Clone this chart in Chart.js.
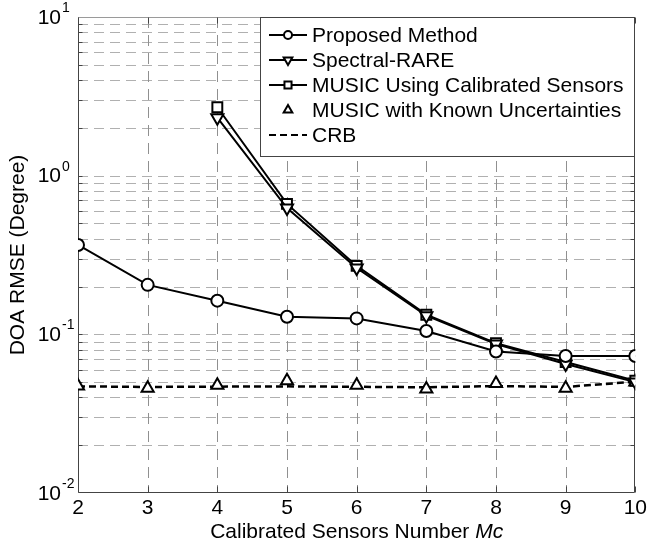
<!DOCTYPE html>
<html>
<head>
<meta charset="utf-8">
<script src="https://cdn.jsdelivr.net/npm/chart.js@4"></script>
<style>
html,body{margin:0;padding:0;background:#fff;}
canvas{display:block;}
</style>
</head>
<body>
<canvas id="c" width="650" height="548"></canvas>
<script>
const xValues = [2, 3, 4, 5, 6, 7, 8, 9, 10];
const proposed = [0.366, 0.205, 0.163, 0.129, 0.126, 0.105, 0.078, 0.073, 0.073];
const spectralRare = [null, null, 2.32, 0.625, 0.262, 0.131, 0.087, 0.065, 0.050];
const musicCalibrated = [null, null, 2.70, 0.664, 0.270, 0.133, 0.088, 0.067, 0.051];
const musicKnown = [0.0472, 0.0457, 0.0478, 0.0509, 0.0478, 0.0453, 0.0490, 0.0457, 0.0500];
const crb = [0.0470, 0.0466, 0.0468, 0.0470, 0.0467, 0.0464, 0.0472, 0.0466, 0.0503];
const seriesNames = ['Proposed Method', 'Spectral-RARE', 'MUSIC Using Calibrated Sensors', 'MUSIC with Known Uncertainties', 'CRB'];
const yMajorTicks = [0.01, 0.1, 1, 10];
const yMajorExponents = ['-2', '-1', '0', '1'];
const yGridTicks = [0.02,0.03,0.04,0.05,0.06,0.07,0.08,0.09,0.1,0.2,0.3,0.4,0.5,0.6,0.7,0.8,0.9,1,2,3,4,5,6,7,8,9];
const xTickValues = [2, 3, 4, 5, 6, 7, 8, 9, 10];
const xTitleMain = 'Calibrated Sensors Number ';
const xTitleItalic = 'Mc';
const yTitle = 'DOA RMSE (Degree)';

const FONT = '"Liberation Sans", Arial, Helvetica, sans-serif';

function pts(arr) { return xValues.map((x, i) => ({ x: x, y: arr[i] })); }

const gridPlugin = {
  id: 'gridPlugin',
  beforeDatasetsDraw(chart) {
    const ctx = chart.ctx, a = chart.chartArea;
    const xs = chart.scales.x, ys = chart.scales.y;
    ctx.save();
    ctx.lineWidth = 1;
    ctx.setLineDash([10, 6]);
    ctx.strokeStyle = '#b0b0b0';
    yGridTicks.forEach(v => {
      const y = Math.round(ys.getPixelForValue(v)) + 0.5;
      ctx.beginPath(); ctx.moveTo(a.left, y); ctx.lineTo(a.right, y); ctx.stroke();
    });
    ctx.strokeStyle = '#909090';
    ctx.setLineDash([11, 7]);
    xTickValues.slice(1, -1).forEach(v => {
      const x = Math.round(xs.getPixelForValue(v)) + 0.5;
      ctx.beginPath(); ctx.moveTo(x, a.top); ctx.lineTo(x, a.bottom); ctx.stroke();
    });
    ctx.setLineDash([]);
    const L = Math.round(a.left) + 0.5, R = Math.round(a.right) - 0.5, T = Math.round(a.top) + 0.5, B = Math.round(a.bottom) - 0.5;
    ctx.strokeStyle = '#9a9a9a';
    ctx.beginPath(); ctx.moveTo(L, T); ctx.lineTo(R, T); ctx.stroke();
    ctx.strokeStyle = '#444';
    ctx.beginPath(); ctx.moveTo(L, T); ctx.lineTo(L, B); ctx.lineTo(R, B); ctx.lineTo(R, T); ctx.stroke();
    yGridTicks.forEach(v => {
      const y = Math.round(ys.getPixelForValue(v)) + 0.5;
      ctx.beginPath(); ctx.moveTo(L, y); ctx.lineTo(L + 4, y); ctx.moveTo(R, y); ctx.lineTo(R - 4, y); ctx.stroke();
    });
    xTickValues.forEach(v => {
      const x = Math.round(xs.getPixelForValue(v)) + 0.5;
      ctx.beginPath(); ctx.moveTo(x, B); ctx.lineTo(x, B - 6); ctx.moveTo(x, T); ctx.lineTo(x, T + 6); ctx.stroke();
    });
    ctx.restore();
  },
  afterDraw(chart) {
    const ctx = chart.ctx, a = chart.chartArea;
    const ys = chart.scales.y;
    ctx.save();
    ctx.fillStyle = '#000';
    yMajorTicks.forEach((v, i) => {
      const y = ys.getPixelForValue(v);
      ctx.font = '21px ' + FONT;
      ctx.textAlign = 'right'; ctx.textBaseline = 'middle';
      ctx.fillText('10', 61, y + 1);
      ctx.font = '14px ' + FONT;
      ctx.textAlign = 'left';
      ctx.fillText(yMajorExponents[i], 62, y - 9);
    });
    ctx.save();
    ctx.translate(18, (a.top + a.bottom) / 2);
    ctx.rotate(-Math.PI / 2);
    ctx.font = '21px ' + FONT;
    ctx.textAlign = 'center'; ctx.textBaseline = 'middle';
    ctx.fillText(yTitle, 0, 0);
    ctx.restore();
    ctx.font = '21px ' + FONT;
    const w1 = ctx.measureText(xTitleMain).width;
    ctx.font = 'italic 21px ' + FONT;
    const w2 = ctx.measureText(xTitleItalic).width;
    const cx = (a.left + a.right) / 2;
    const x0 = cx - (w1 + w2) / 2;
    ctx.textAlign = 'left'; ctx.textBaseline = 'middle';
    ctx.font = '21px ' + FONT;
    ctx.fillText(xTitleMain, x0, 532);
    ctx.font = 'italic 21px ' + FONT;
    ctx.fillText(xTitleItalic, x0 + w1, 532);
    const bx0 = Math.round(a.right) - 375, by0 = Math.round(a.top), bx1 = Math.round(a.right), by1 = by0 + 140;
    ctx.fillStyle = '#fff';
    ctx.fillRect(bx0, by0, bx1 - bx0, by1 - by0);
    ctx.strokeStyle = '#444'; ctx.lineWidth = 1;
    ctx.strokeRect(bx0 + 0.5, by0 + 0.5, bx1 - bx0 - 1, by1 - by0 - 1);
    chart.data.datasets.forEach((ds, i) => {
      const y = by0 + 18 + 25 * i;
      const lx0 = bx0 + 9, lx1 = bx0 + 47, mx = (lx0 + lx1) / 2;
      if (ds.showLine !== false) {
        ctx.save();
        ctx.strokeStyle = '#000'; ctx.lineWidth = 2;
        ctx.setLineDash(ds.borderDash || []);
        ctx.beginPath(); ctx.moveTo(lx0, y); ctx.lineTo(lx1, y); ctx.stroke();
        ctx.restore();
      }
      if (ds.pointRadius > 0) {
        ctx.save();
        ctx.strokeStyle = '#000'; ctx.fillStyle = '#fff'; ctx.lineWidth = 2;
        Chart.helpers.drawPoint(ctx, { pointStyle: ds.pointStyle, rotation: ds.pointRotation || 0, radius: ds.pointStyle === 'rect' ? 5 : (ds.pointStyle === 'triangle' ? 5 : 4), borderWidth: 2 }, mx, y);
        ctx.restore();
      }
      ctx.fillStyle = '#000';
      ctx.font = '21px ' + FONT;
      ctx.textAlign = 'left'; ctx.textBaseline = 'middle';
      ctx.fillText(ds.label, bx0 + 52, y + 1);
    });
    ctx.restore();
  }
};

const common = { borderColor: '#000', backgroundColor: '#fff', pointBorderColor: '#000', pointBackgroundColor: '#fff', borderWidth: 2, pointBorderWidth: 2, fill: false, tension: 0 };

new Chart(document.getElementById('c'), {
  type: 'line',
  data: {
    datasets: [
      Object.assign({}, common, { label: seriesNames[0], data: pts(proposed), pointStyle: 'circle', pointRadius: 6 }),
      Object.assign({}, common, { label: seriesNames[1], data: pts(spectralRare), pointStyle: 'triangle', pointRotation: 180, pointRadius: 7 }),
      Object.assign({}, common, { label: seriesNames[2], data: pts(musicCalibrated), pointStyle: 'rect', pointRadius: 7 }),
      Object.assign({}, common, { label: seriesNames[3], data: pts(musicKnown), pointStyle: 'triangle', pointRadius: 7, showLine: false }),
      Object.assign({}, common, { label: seriesNames[4], data: pts(crb), pointRadius: 0, borderWidth: 2.5, borderDash: [7, 4] })
    ]
  },
  options: {
    responsive: false,
    devicePixelRatio: 1,
    animation: false,
    layout: { padding: { top: 17, right: 12, left: 0, bottom: 0 } },
    plugins: { legend: { display: false }, tooltip: { enabled: false } },
    scales: {
      x: {
        type: 'linear', min: 2, max: 10,
        afterBuildTicks: s => { s.ticks = xTickValues.map(v => ({ value: v })); },
        afterFit: s => { s.height = 55; },
        ticks: { color: '#000', font: { size: 21, family: FONT }, padding: 3, maxRotation: 0, autoSkip: false },
        grid: { display: false, drawTicks: false },
        border: { display: false }
      },
      y: {
        type: 'logarithmic', min: 0.01, max: 10,
        afterFit: s => { s.width = 78; },
        ticks: { display: false },
        grid: { display: false, drawTicks: false },
        border: { display: false }
      }
    }
  },
  plugins: [gridPlugin]
});
</script>
</body>
</html>
